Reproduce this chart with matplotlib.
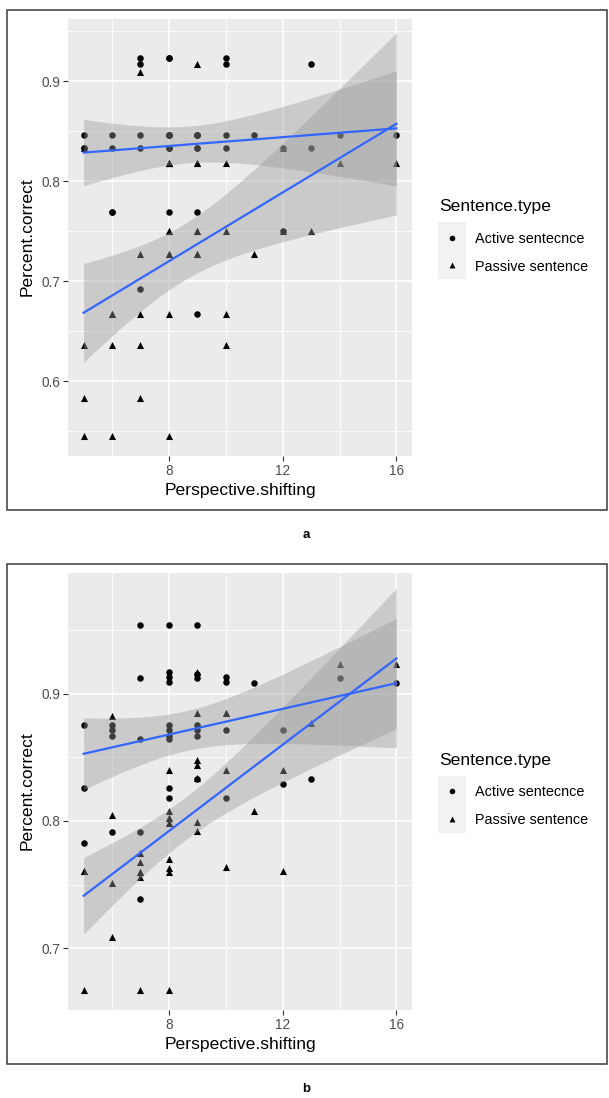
import numpy as np
import matplotlib
matplotlib.use("Agg")
import matplotlib.pyplot as plt
from matplotlib.patches import Rectangle

plt.rcParams['font.family'] = ['Liberation Sans', 'DejaVu Sans']

# ---- panel a data (Perspective.shifting vs Percent.correct) ----
a_act_x = [5, 5, 5, 6, 6, 6, 6, 7, 7, 7, 7, 7,
           8, 8, 8, 8, 8, 8, 8, 8, 8, 8, 9, 9, 9, 9, 9, 9, 9,
           10, 10, 10, 10, 11, 12, 12, 13, 13, 14, 16]
a_act_y = [0.846, 0.833, 0.833, 0.846, 0.833, 0.769, 0.769,
           0.923, 0.917, 0.846, 0.833, 0.692,
           0.923, 0.923, 0.846, 0.846, 0.846, 0.846, 0.833, 0.833, 0.833, 0.769,
           0.846, 0.846, 0.846, 0.833, 0.833, 0.769, 0.667,
           0.923, 0.917, 0.846, 0.833, 0.846, 0.833, 0.750, 0.917, 0.833,
           0.846, 0.846]
a_pas_x = [5, 5, 5, 5, 6, 6, 6, 6, 7, 7, 7, 7, 7,
           8, 8, 8, 8, 8, 8, 8, 8, 8, 8, 9, 9, 9, 9, 9, 9, 9,
           10, 10, 10, 10, 11, 12, 12, 13, 14, 16]
a_pas_y = [0.833, 0.636, 0.583, 0.545, 0.667, 0.667, 0.636, 0.545,
           0.909, 0.727, 0.667, 0.636, 0.583,
           0.818, 0.818, 0.818, 0.818, 0.750, 0.750, 0.727, 0.727, 0.667, 0.545,
           0.917, 0.818, 0.818, 0.750, 0.750, 0.727, 0.727,
           0.818, 0.750, 0.667, 0.636, 0.727, 0.833, 0.750, 0.750, 0.818, 0.818]

# ---- panel b data ----
b_act_x = [5, 5, 5, 6, 6, 6, 6, 7, 7, 7, 7, 7,
           8, 8, 8, 8, 8, 8, 8, 8, 8, 8, 9, 9, 9, 9, 9, 9, 9,
           10, 10, 10, 10, 11, 12, 12, 13, 14, 16]
b_act_y = [0.875, 0.826, 0.783, 0.875, 0.871, 0.867, 0.791,
           0.954, 0.912, 0.864, 0.791, 0.739,
           0.954, 0.917, 0.913, 0.909, 0.875, 0.871, 0.867, 0.864, 0.826, 0.818,
           0.954, 0.915, 0.912, 0.875, 0.871, 0.867, 0.833,
           0.913, 0.909, 0.871, 0.818, 0.908, 0.871, 0.829, 0.833, 0.912, 0.908]
b_pas_x = [5, 5, 5, 6, 6, 6, 6, 7, 7, 7, 7, 7, 7,
           8, 8, 8, 8, 8, 8, 8, 8, 8, 8, 9, 9, 9, 9, 9, 9, 9,
           10, 10, 10, 10, 11, 12, 12, 13, 14, 16]
b_pas_y = [0.761, 0.761, 0.667, 0.882, 0.805, 0.751, 0.709,
           0.775, 0.768, 0.760, 0.760, 0.756, 0.667,
           0.840, 0.808, 0.802, 0.802, 0.798, 0.798, 0.770, 0.763, 0.760, 0.667,
           0.917, 0.885, 0.848, 0.844, 0.834, 0.799, 0.792,
           0.885, 0.885, 0.840, 0.764, 0.808, 0.840, 0.761, 0.877, 0.923, 0.923]

legend_labels = ['Active sentecnce', 'Passive sentence']


def t975(df):
    # Cornish-Fisher expansion of the t quantile
    z = 1.959964
    g1 = (z**3 + z) / 4
    g2 = (5 * z**5 + 16 * z**3 + 3 * z) / 96
    g3 = (3 * z**7 + 19 * z**5 + 17 * z**3 - 15 * z) / 384
    return z + g1 / df + g2 / df**2 + g3 / df**3


def lm_band(x, y):
    """linear fit with 95% confidence band, like geom_smooth(method='lm')"""
    x = np.asarray(x, float)
    y = np.asarray(y, float)
    n = len(x)
    grid = np.linspace(x.min(), x.max(), 80)
    slope, icpt = np.polyfit(x, y, 1)
    fit = icpt + slope * grid
    resid = y - (icpt + slope * x)
    s = np.sqrt(np.sum(resid**2) / (n - 2))
    sxx = np.sum((x - x.mean())**2)
    se = s * np.sqrt(1.0 / n + (grid - x.mean())**2 / sxx)
    t = t975(n - 2)
    return grid, fit, fit - t * se, fit + t * se


W, H = 609, 1098
fig = plt.figure(figsize=(W / 100, H / 100), dpi=100)


def px(x0, y0, x1, y1):
    # pixel box (top-left origin) -> figure rect
    return [x0 / W, 1 - y1 / H, (x1 - x0) / W, (y1 - y0) / H]


def draw_panel(top, act_x, act_y, pas_x, pas_y, ylim, yticks, yminor, letter):
    ax = fig.add_axes(px(68, top, 412, top + 437))
    ax.set_facecolor('#EBEBEB')
    for sp in ax.spines.values():
        sp.set_visible(False)
    ax.set_axisbelow(True)

    ax.scatter(pas_x, pas_y, marker='^', s=26, color='black', lw=0, zorder=2)
    ax.scatter(act_x, act_y, marker='o', s=22, color='black', lw=0, zorder=2)

    for xs, ys in [(act_x, act_y), (pas_x, pas_y)]:
        g, fit, lo, hi = lm_band(xs, ys)
        ax.fill_between(g, lo, hi, color='#999999', alpha=0.4, lw=0, zorder=3)
        ax.plot(g, fit, color='#3366FF', lw=1.6, zorder=4)

    ax.set_xlim(4.45, 16.55)
    ax.set_ylim(*ylim)
    ax.set_xticks([8, 12, 16])
    ax.set_xticks([6, 10, 14], minor=True)
    ax.set_yticks(yticks)
    ax.set_yticklabels([f'{v:.1f}' for v in yticks])
    ax.set_yticks(yminor, minor=True)
    ax.grid(which='major', color='white', lw=1.15)
    ax.grid(which='minor', color='white', lw=0.6)
    ax.tick_params(which='major', length=3.3, width=0.8, color='#333333',
                   labelcolor='#4D4D4D', labelsize=9.8, pad=2.5)
    ax.tick_params(which='minor', length=0)

    fig.text(240 / W, 1 - (top + 472) / H, 'Perspective.shifting',
             ha='center', va='center', size=12.6)
    fig.text(27 / W, 1 - (top + 218) / H, 'Percent.correct',
             ha='center', va='center', rotation=90, size=12.6)

    # legend
    fig.text(439 / W, 1 - (top + 188) / H, 'Sentence.type',
             ha='left', va='center', size=12.6)
    kax = fig.add_axes(px(438, top + 203, 466, top + 260))
    kax.set_facecolor('#F2F2F2')
    kax.set_xlim(0, 1)
    kax.set_ylim(0, 1)
    kax.set_xticks([])
    kax.set_yticks([])
    for sp in kax.spines.values():
        sp.set_visible(False)
    kax.scatter([0.5], [0.725], marker='o', s=16, color='black', lw=0)
    kax.scatter([0.5], [0.245], marker='^', s=18, color='black', lw=0)
    fig.text(475 / W, 1 - (top + 220) / H, legend_labels[0],
             ha='left', va='center', size=10.4)
    fig.text(475 / W, 1 - (top + 247.5) / H, legend_labels[1],
             ha='left', va='center', size=10.4)

    # frame around the panel
    fig.add_artist(Rectangle((7 / W, 1 - (top + 491) / H), 600 / W, 500 / H,
                             transform=fig.transFigure, fill=False,
                             ec='#3A3A3A', lw=1.1))
    fig.text(306 / W, 1 - (top + 516) / H, letter, ha='center', va='center',
             size=9.5, weight='bold')


draw_panel(19, a_act_x, a_act_y, a_pas_x, a_pas_y, (0.5255, 0.962),
           [0.6, 0.7, 0.8, 0.9], [0.55, 0.65, 0.75, 0.85, 0.95], 'a')
draw_panel(572.5, b_act_x, b_act_y, b_pas_x, b_pas_y, (0.652, 0.995),
           [0.7, 0.8, 0.9], [0.75, 0.85, 0.95], 'b')

fig.savefig('out.png', dpi=100)
